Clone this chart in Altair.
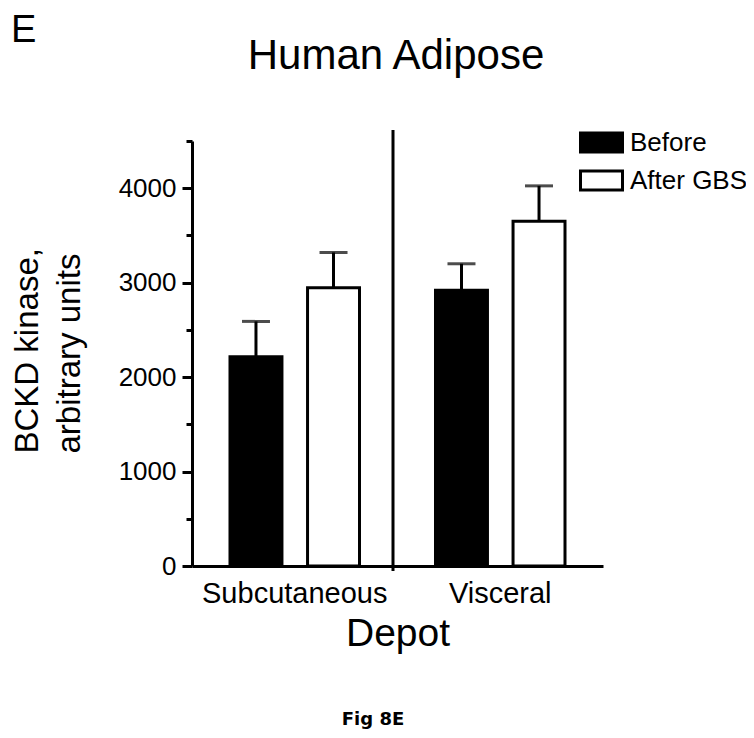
import altair as alt
import pandas as pd

depots = ["Subcutaneous", "Subcutaneous", "Visceral", "Visceral"]
groups = ["Before", "After GBS", "Before", "After GBS"]
means = [2215, 2945, 2920, 3650]
sems = [375, 375, 280, 375]

group_order = ["Before", "After GBS"]
group_colors = ["black", "white"]
y_ticks = [0, 500, 1000, 1500, 2000, 2500, 3000, 3500, 4000, 4500]

df = pd.DataFrame({"Depot": depots, "Group": groups, "Mean": means, "SEM": sems})
df["Upper"] = df["Mean"] + df["SEM"]

FONT = "Liberation Sans"
W, H = 411, 425

x_enc = alt.X("Depot:N", scale=alt.Scale(paddingInner=0, paddingOuter=0),
              axis=alt.Axis(title="Depot", ticks=False, labelAngle=0, labelFontSize=29,
                            labelFont=FONT, labelColor="black", labelPadding=13, labelLimit=0,
                            titleFont=FONT, titleFontSize=39, titleFontWeight="normal",
                            titleColor="black", titlePadding=6,
                            domainColor="black", domainWidth=3))
xo_enc = alt.XOffset("Group:N", sort=group_order,
                     scale=alt.Scale(paddingInner=0.33, paddingOuter=0.49))
y_scale = alt.Scale(domain=[0, 4500], nice=False)

bars = alt.Chart(df).mark_bar(stroke="black", strokeWidth=3).encode(
    x=x_enc,
    xOffset=xo_enc,
    y=alt.Y("Mean:Q", scale=y_scale,
            axis=alt.Axis(title=["BCKD kinase,", "arbitrary units"], values=y_ticks,
                          labelExpr="datum.value % 1000 === 0 ? datum.label : ''",
                          format="d", grid=False,
                          tickSize={"condition": {"test": "datum.value % 1000 === 0", "value": 10}, "value": 6},
                          tickWidth=3, tickColor="black",
                          domainColor="black", domainWidth=3,
                          labelFont=FONT, labelFontSize=26, labelColor="black", labelPadding=6,
                          titleFont=FONT, titleFontSize=33, titleFontWeight="normal",
                          titleColor="black", titleAlign="left", titleBaseline="bottom",
                          titleAngle=270, titleX=-148, titleY=312,
                          titleLineHeight=42)),
    fill=alt.Fill("Group:N", sort=group_order,
                  scale=alt.Scale(domain=group_order, range=group_colors),
                  legend=alt.Legend(title=None, orient="none", legendX=387, legendY=-21,
                                    symbolType="M-1,-0.45H1V0.45H-1Z", symbolSize=1764,
                                    symbolStrokeColor="black", symbolStrokeWidth=3,
                                    labelFont=FONT, labelFontSize=26, labelColor="black",
                                    labelOffset=6, rowPadding=-5, padding=0)),
)

err = alt.Chart(df).mark_rule(color="black", strokeWidth=3).encode(
    x=alt.X("Depot:N"), xOffset=xo_enc,
    y=alt.Y("Mean:Q", scale=y_scale), y2="Upper:Q",
)

cap = alt.Chart(df).mark_tick(color="black", thickness=3, size=28).encode(
    x=alt.X("Depot:N"), xOffset=xo_enc,
    y=alt.Y("Upper:Q", scale=y_scale),
)

one = pd.DataFrame({"k": [0]})
divider = alt.Chart(one).mark_rule(color="black", strokeWidth=3).encode(
    x=alt.value(201), y=alt.value(-11), y2=alt.value(430)
)
panel = alt.Chart(one).mark_text(font=FONT, fontSize=38, align="left",
                                 baseline="alphabetic", color="black").encode(
    x=alt.value(-181), y=alt.value(-99), text=alt.value("E")
)
title = alt.Chart(one).mark_text(font=FONT, fontSize=42, align="center",
                                 baseline="alphabetic", color="black").encode(
    x=alt.value(204), y=alt.value(-72), text=alt.value("Human Adipose")
)
fig = alt.Chart(one).mark_text(font="DejaVu Sans", fontSize=18, fontWeight="bold",
                               align="center", baseline="alphabetic", color="black").encode(
    x=alt.value(181), y=alt.value(584), text=alt.value("Fig 8E")
)

chart = alt.layer(bars, err, cap, divider, panel, title, fig).properties(
    width=W, height=H,
    autosize=alt.AutoSizeParams(type="none"),
    padding={"left": 184, "top": 133, "right": 143, "bottom": 164},
).configure_view(stroke=None)

chart.save("out.html", embed_options={"renderer": "svg", "actions": False})
